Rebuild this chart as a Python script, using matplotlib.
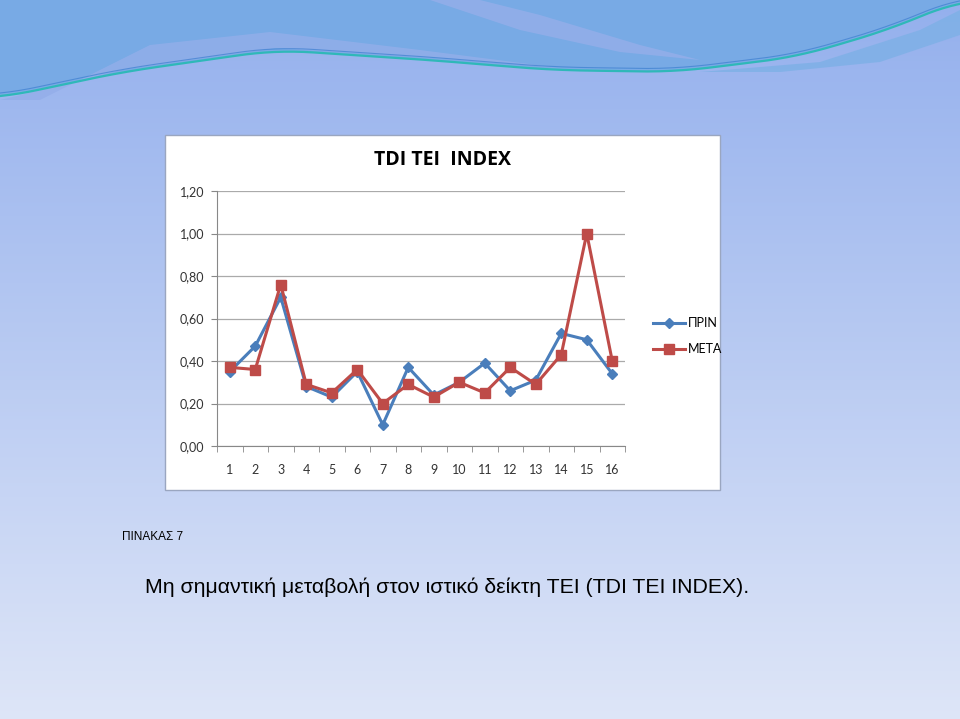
import numpy as np
import matplotlib.pyplot as plt
from matplotlib.patches import Rectangle, Polygon

# data
categories = list(range(1, 17))
prin = [0.35, 0.47, 0.70, 0.28, 0.23, 0.35, 0.10, 0.37, 0.24, 0.30, 0.39, 0.26, 0.31, 0.53, 0.50, 0.34]
meta = [0.37, 0.36, 0.76, 0.29, 0.25, 0.36, 0.20, 0.29, 0.23, 0.30, 0.25, 0.37, 0.29, 0.43, 1.00, 0.40]
y_ticks = [0.0, 0.2, 0.4, 0.6, 0.8, 1.0, 1.2]

plt.rcParams['font.family'] = ['Liberation Sans', 'DejaVu Sans']
chart_font = ['Lato', 'DejaVu Sans']

W, H = 960, 719
fig = plt.figure(figsize=(W / 100, H / 100), dpi=100)

# slide background (pixel coordinates, y downwards)
bg = fig.add_axes([0, 0, 1, 1])
bg.set_xlim(0, W)
bg.set_ylim(H, 0)
bg.axis('off')
top = np.array([0.58, 0.69, 0.93])
bottom = np.array([0.87, 0.90, 0.97])
t = np.linspace(0, 1, 256)[:, None]
grad = top + (bottom - top) * t
bg.imshow(grad[:, None, :].repeat(2, axis=1), extent=[0, W, H, 0], aspect='auto', zorder=0)

# decorative wave at the top
wx = np.array([0, 122, 276, 429, 551, 674, 796, 888, 960])
wy = np.array([98, 72, 50, 60, 70, 72, 57, 30, 0])
xs = np.linspace(0, W, 400)
ys = np.interp(xs, wx, wy)
ys = np.convolve(np.pad(ys, 15, mode='edge'), np.ones(31) / 31, mode='valid')
bg.fill_between(xs, 0, ys, color='#78aae5', zorder=1, lw=0)
bg.add_patch(Polygon([[40, 100], [150, 45], [270, 32], [420, 50], [560, 68], [430, 58], [276, 48],
                      [122, 70], [0, 100]], closed=True, color='#93aeea', alpha=0.8, lw=0, zorder=1))
bg.add_patch(Polygon([[430, 0], [520, 30], [620, 52], [700, 60], [640, 45], [540, 15], [480, 0]],
                     closed=True, color='#95aeea', alpha=0.8, lw=0, zorder=1))
bg.add_patch(Polygon([[700, 72], [820, 62], [920, 30], [960, 10], [960, 35], [880, 62], [780, 72]],
                     closed=True, color='#7db0e6', alpha=0.8, lw=0, zorder=1))
bg.plot(xs, ys, color='#2fb8b8', lw=1.6, zorder=2)
bg.plot(xs, ys - 3, color='#3d7fd0', lw=0.8, alpha=0.7, zorder=2)

# white chart box
bg.add_patch(Rectangle((165, 135), 555, 355, facecolor='white', edgecolor='#9aa6c0', lw=1, zorder=3))
bg.text(443, 160, 'TDI TEI  INDEX', ha='center', va='center', fontsize=14, fontweight='bold',
        family=['Open Sans', 'DejaVu Sans'], color='black', zorder=4)

# slide texts
bg.text(122, 537, 'ΠΙΝΑΚΑΣ 7', ha='left', va='center', fontsize=8.5, color='black', zorder=4)
bg.text(145, 587, 'Μη σημαντική μεταβολή στον ιστικό δείκτη ΤΕΙ (TDI TEI INDEX).',
        ha='left', va='center', fontsize=15.3, color='black', zorder=4)

# the chart
ax = fig.add_axes([217 / W, 1 - 446 / H, (625 - 217) / W, (446 - 191) / H])
ax.set_facecolor('white')
ax.plot(categories, prin, color='#4a7ebb', marker='D', markersize=5, lw=2.2, label='ΠΡΙΝ', zorder=3)
ax.plot(categories, meta, color='#be4b48', marker='s', markersize=7, lw=2.2, label='ΜΕΤΑ', zorder=4)

ax.set_xlim(0.5, 16.5)
ax.set_ylim(0, 1.2)
ax.set_yticks(y_ticks)
ax.set_yticklabels([f'{v:.2f}'.replace('.', ',') for v in y_ticks], fontsize=9, color='#333333',
                   family=chart_font)
ax.set_xticks(categories)
ax.set_xticklabels([str(c) for c in categories], fontsize=9, color='#333333', family=chart_font)
ax.set_xticks(np.arange(0.5, 17, 1), minor=True)
ax.tick_params(axis='x', which='major', length=0, pad=13)
ax.tick_params(axis='x', which='minor', length=4, color='#888888', direction='out')
ax.tick_params(axis='y', length=4, color='#888888', pad=5)
ax.grid(axis='y', color='#aaaaaa', lw=0.9)
ax.set_axisbelow(True)
for s in ['top', 'right']:
    ax.spines[s].set_visible(False)
ax.spines['left'].set_color('#888888')
ax.spines['bottom'].set_color('#888888')

leg = ax.legend(loc='center left', bbox_to_anchor=(1.04, 0.43), frameon=False,
                prop={'family': chart_font, 'size': 9},
                handlelength=2.6, labelspacing=1.1, handletextpad=0.2)

fig.savefig('out.png', dpi=100)
